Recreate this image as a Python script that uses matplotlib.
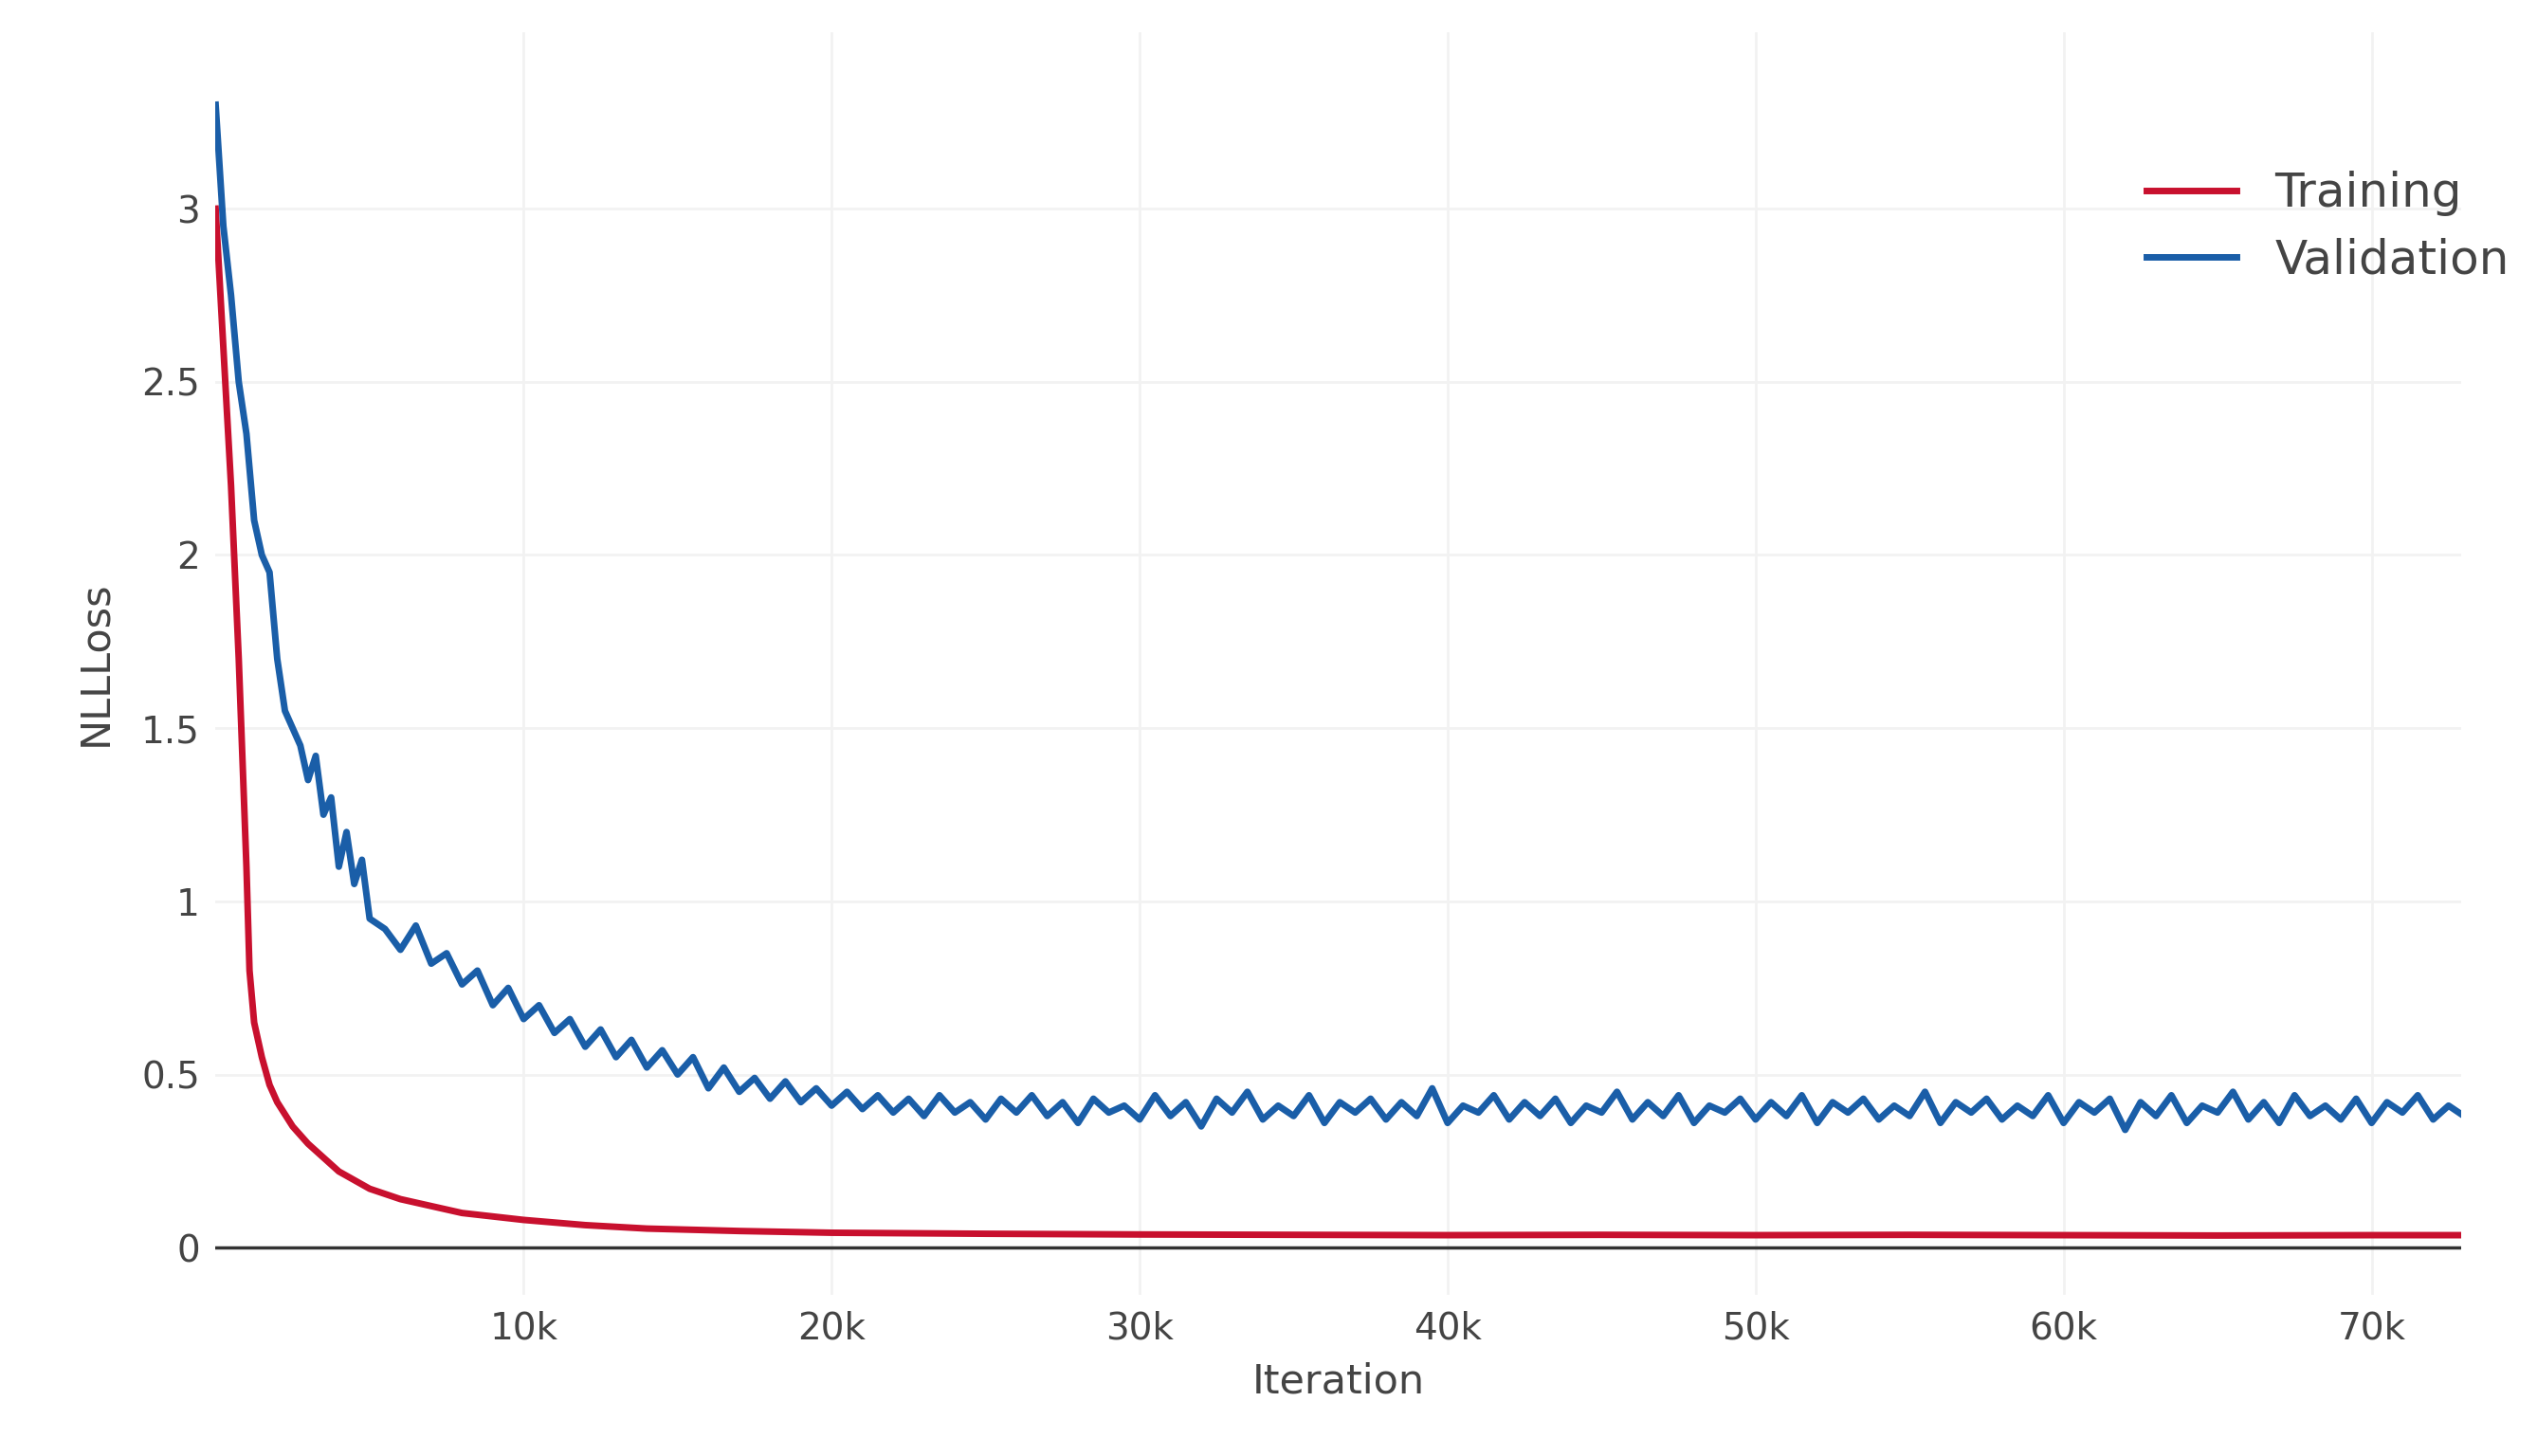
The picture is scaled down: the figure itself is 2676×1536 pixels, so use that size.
import matplotlib.pyplot as plt
from matplotlib.ticker import FuncFormatter

# training loss
train_iter = [0, 250, 500, 750, 1000, 1100, 1250, 1500, 1750, 2000, 2500, 3000, 3500,
              4000, 5000, 6000, 7000, 8000, 9000, 10000, 12000, 14000, 17000, 20000,
              25000, 30000, 35000, 40000, 45000, 50000, 55000, 60000, 65000, 70000, 73000]
train_loss = [3.0, 2.6, 2.2, 1.7, 1.1, 0.8, 0.65, 0.55, 0.47, 0.42, 0.35, 0.30, 0.26,
              0.22, 0.17, 0.14, 0.12, 0.10, 0.09, 0.08, 0.065, 0.055, 0.048, 0.043,
              0.04, 0.038, 0.037, 0.036, 0.037, 0.036, 0.037, 0.036, 0.035, 0.036, 0.036]

# validation loss, early part
val_iter = [0, 250, 500, 750, 1000, 1250, 1500, 1750, 2000, 2250, 2500, 2750, 3000,
            3250, 3500, 3750, 4000, 4250, 4500, 4750, 5000]
val_loss = [3.3, 2.95, 2.75, 2.5, 2.35, 2.1, 2.0, 1.95, 1.7, 1.55, 1.5, 1.45, 1.35,
            1.42, 1.25, 1.3, 1.1, 1.2, 1.05, 1.12, 0.95]
# validation loss, 5.5k..73k every 500
val_tail = [0.92, 0.86, 0.93, 0.82, 0.85, 0.76, 0.80, 0.70, 0.75, 0.66, 0.70, 0.62, 0.66,
            0.58, 0.63, 0.55, 0.60, 0.52, 0.57, 0.50, 0.55, 0.46, 0.52, 0.45, 0.49, 0.43,
            0.48, 0.42, 0.46, 0.41, 0.45, 0.40, 0.44, 0.39, 0.43, 0.38, 0.44, 0.39, 0.42,
            0.37, 0.43, 0.39, 0.44, 0.38, 0.42, 0.36, 0.43, 0.39, 0.41, 0.37, 0.44, 0.38,
            0.42, 0.35, 0.43, 0.39, 0.45, 0.37, 0.41, 0.38, 0.44, 0.36, 0.42, 0.39, 0.43,
            0.37, 0.42, 0.38, 0.46, 0.36, 0.41, 0.39, 0.44, 0.37, 0.42, 0.38, 0.43, 0.36,
            0.41, 0.39, 0.45, 0.37, 0.42, 0.38, 0.44, 0.36, 0.41, 0.39, 0.43, 0.37, 0.42,
            0.38, 0.44, 0.36, 0.42, 0.39, 0.43, 0.37, 0.41, 0.38, 0.45, 0.36, 0.42, 0.39,
            0.43, 0.37, 0.41, 0.38, 0.44, 0.36, 0.42, 0.39, 0.43, 0.34, 0.42, 0.38, 0.44,
            0.36, 0.41, 0.39, 0.45, 0.37, 0.42, 0.36, 0.44, 0.38, 0.41, 0.37, 0.43, 0.36,
            0.42, 0.39, 0.44, 0.37, 0.41, 0.38]
val_iter = val_iter + [5500 + 500 * i for i in range(len(val_tail))]
val_loss = val_loss + val_tail

fig = plt.figure(figsize=(26.76, 15.36), dpi=100)
ax = fig.add_axes([0.085, 0.111, 0.885, 0.867])

ax.plot(train_iter, train_loss, color='#c8102e', lw=5, label='Training', zorder=3)
ax.plot(val_iter, val_loss, color='#1a5ea8', lw=5, label='Validation', zorder=3)

ax.set_xlim(0, 72900)
ax.set_ylim(-0.135, 3.51)
ax.set_xticks([10000 * i for i in range(1, 8)])
ax.xaxis.set_major_formatter(FuncFormatter(lambda v, p: f'{int(v / 1000)}k'))
ax.set_yticks([0, 0.5, 1, 1.5, 2, 2.5, 3])
ax.set_yticklabels(['0', '0.5', '1', '1.5', '2', '2.5', '3'])
ax.grid(color='#f2f2f2', lw=2)
ax.axhline(0, color='#333333', lw=2.5, zorder=2)
for s in ax.spines.values():
    s.set_visible(False)
ax.tick_params(length=0, labelsize=28, colors='#444444', pad=12)
ax.set_xlabel('Iteration', fontsize=31, color='#444444', labelpad=12)
ax.set_ylabel('NLLLoss', fontsize=31, color='#444444', labelpad=20)

ax.legend(loc='upper right', bbox_to_anchor=(1.03, 0.905), frameon=False,
          fontsize=36, handlelength=1.9, labelcolor='#444444', borderaxespad=0,
          labelspacing=0.45)

fig.savefig('out.png', dpi=100)
